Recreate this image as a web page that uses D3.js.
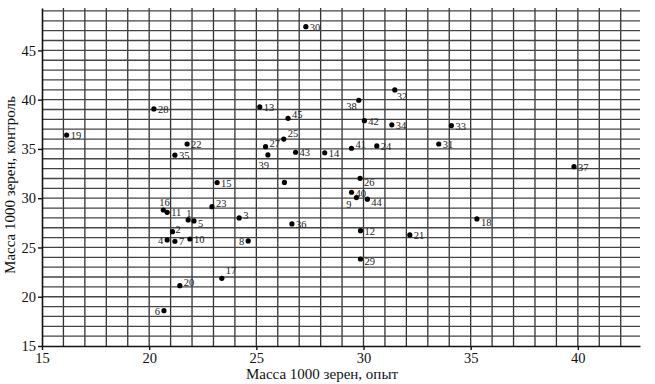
<!DOCTYPE html>
<html>
<head>
<meta charset="utf-8">
<script src="https://cdn.jsdelivr.net/npm/d3@7"></script>
<style>
  body { margin: 0; background: #fff; }
  text { font-family: "Liberation Serif", "DejaVu Serif", serif; }
</style>
</head>
<body>
<svg id="chart" width="655" height="384"></svg>
<script>
// номера образцов и масса 1000 зерен (опыт / контроль)
const ids = ["1","2","3","4","5","6","7","8","9","10","11","12","13","14","15","16","17","18","19","20",
  "21","22","23","24","25","26","27","28","29","30","31","32","33","34","35","36","37","38","39","40",
  "41","42","43","44","45",""];
const opyt = [21.82,21.09,24.2,20.84,22.09,20.69,21.2,24.62,29.67,21.9,20.84,29.86,25.16,28.19,23.17,20.66,23.39,35.29,16.15,21.43,
  32.16,21.77,22.93,30.62,26.28,29.84,25.43,20.22,29.86,27.31,33.51,31.46,34.1,31.32,21.2,26.66,39.82,29.78,25.54,29.44,
  29.44,30.04,26.83,30.18,26.48,26.31];
const kontrol = [27.79,26.6,28.0,25.76,27.69,18.58,25.63,25.66,30.06,25.86,28.57,26.7,39.26,34.6,31.58,28.8,21.87,27.9,36.4,21.12,
  26.27,35.5,29.14,35.3,36.0,32.02,35.23,39.06,23.83,47.4,35.5,40.99,37.37,37.44,34.36,27.39,33.2,39.94,34.39,30.6,
  35.07,37.87,34.66,29.9,38.1,31.6];
const xTicks = [15, 20, 25, 30, 35, 40];
const yTicks = [15, 20, 25, 30, 35, 40, 45];

const data = ids.map((id, i) => ({ id, x: opyt[i], y: kontrol[i] }));

const svg = d3.select("#chart");
const plotLeft = 42, plotRight = 640, plotTop = 8, plotBottom = 346;

const x = d3.scaleLinear().domain([15, 42.9]).range([plotLeft, plotRight]);
const y = d3.scaleLinear().domain([15, 49.3]).range([plotBottom, plotTop]);

// сетка через 1 единицу
svg.append("g")
  .selectAll("line")
  .data(d3.range(16, 43))
  .enter().append("line")
  .attr("x1", d => x(d)).attr("x2", d => x(d))
  .attr("y1", plotTop).attr("y2", plotBottom)
  .attr("stroke", "#333").attr("stroke-width", 1.3);

svg.append("g")
  .selectAll("line")
  .data(d3.range(16, 50))
  .enter().append("line")
  .attr("x1", plotLeft).attr("x2", plotRight)
  .attr("y1", d => y(d)).attr("y2", d => y(d))
  .attr("stroke", "#444").attr("stroke-width", 1.3);

const xAxis = svg.append("g")
  .attr("transform", `translate(0, ${plotBottom})`)
  .call(d3.axisBottom(x).tickValues(xTicks).tickSize(4).tickSizeOuter(0).tickPadding(3));
const yAxis = svg.append("g")
  .attr("transform", `translate(${plotLeft}, 0)`)
  .call(d3.axisLeft(y).tickValues(yTicks).tickSize(4).tickSizeOuter(0).tickPadding(2));

[xAxis, yAxis].forEach(a => {
  a.select(".domain").attr("stroke", "#111").attr("stroke-width", 1.6);
  a.selectAll(".tick line").attr("stroke", "#111").attr("stroke-width", 1.4);
  a.selectAll(".tick text").attr("fill", "#111").style("font-family", "Liberation Serif, serif").style("font-size", "14.5px");
});

// точки
svg.append("g")
  .selectAll("circle")
  .data(data)
  .enter().append("circle")
  .attr("cx", d => x(d.x))
  .attr("cy", d => y(d.y))
  .attr("r", 2.6)
  .attr("fill", "#000");

// размещение подписей
const place = {
  "16": [-4, -4, "start"], "1": [-2, -3, "start"],
  "4": [-4, 4, "end"], "8": [-4, 4, "end"], "6": [-4, 4, "end"],
  "39": [1, 14, "end"], "38": [-2, 10, "end"], "9": [-5, 10, "end"],
  "23": [4, 0, "start"], "17": [4, -4, "start"], "20": [4, 0, "start"],
  "25": [4, -2, "start"], "27": [4, 0, "start"], "45": [4, 0, "start"],
  "41": [4, 0, "start"], "40": [4, 5, "start"], "2": [3, 1, "start"], "3": [4, 1, "start"],
  "26": [4, 8, "start"], "32": [2, 10, "start"], "18": [4, 7, "start"], "44": [4, 7, "start"],
  "5": [4, 6, "start"], "29": [4, 6, "start"]
};

svg.append("g")
  .selectAll("text")
  .data(data)
  .enter().append("text")
  .attr("x", d => x(d.x) + (place[d.id] ? place[d.id][0] : 4))
  .attr("y", d => y(d.y) + (place[d.id] ? place[d.id][1] : 4))
  .attr("text-anchor", d => place[d.id] ? place[d.id][2] : "start")
  .style("font-size", "10.5px")
  .attr("fill", "#222")
  .text(d => d.id);

svg.append("text")
  .attr("x", 322)
  .attr("y", 379)
  .attr("text-anchor", "middle")
  .style("font-size", "15px")
  .attr("fill", "#111")
  .text("Масса 1000 зерен, опыт");

svg.append("text")
  .attr("transform", "translate(15, 185) rotate(-90)")
  .attr("text-anchor", "middle")
  .style("font-size", "15px")
  .attr("fill", "#111")
  .text("Масса 1000 зерен, контроль");
</script>
</body>
</html>
